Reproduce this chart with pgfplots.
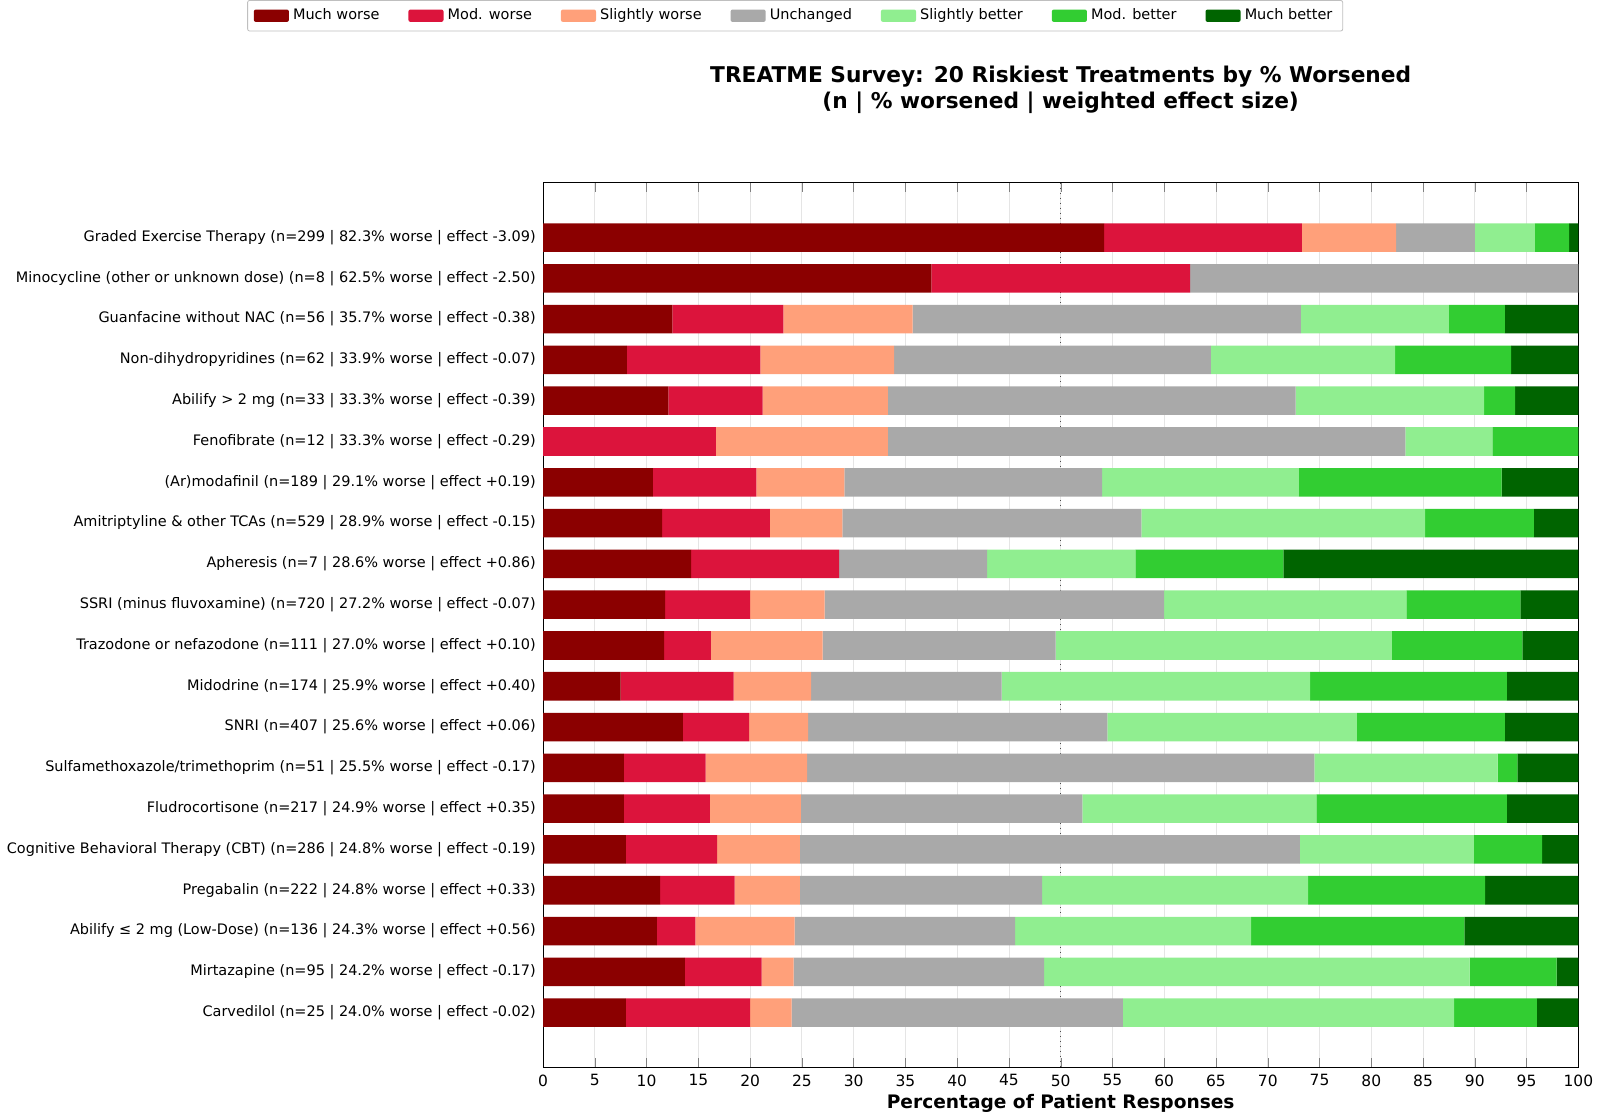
\documentclass[border=0pt]{standalone}
\usepackage{pgfplots}
\usepackage{pgfplotstable}
\pgfplotsset{compat=1.18}
\usepackage{fontspec}
\setmainfont{DejaVu Sans}
\definecolor{c1}{HTML}{8B0000}
\definecolor{c2}{HTML}{DC143C}
\definecolor{c3}{HTML}{FFA07A}
\definecolor{c4}{HTML}{A9A9A9}
\definecolor{c5}{HTML}{90EE90}
\definecolor{c6}{HTML}{32CD32}
\definecolor{c7}{HTML}{006400}
\pgfplotstableread{
y a b c d e f g
0 54.2 19.1 9.1 7.6 5.8 3.3 0.9
1 37.5 25.0 0 37.5 0 0 0
2 12.5 10.7 12.5 37.5 14.3 5.4 7.1
3 8.1 12.9 12.9 30.6 17.8 11.2 6.5
4 12.1 9.1 12.1 39.4 18.2 3.0 6.1
5 0 16.7 16.6 50.0 8.4 8.3 0
6 10.6 10.0 8.5 24.9 19.0 19.6 7.4
7 11.5 10.4 7.0 28.9 27.4 10.5 4.3
8 14.3 14.3 0 14.3 14.3 14.3 28.5
9 11.8 8.2 7.2 32.8 23.4 11.0 5.6
10 11.7 4.5 10.8 22.5 32.5 12.6 5.4
11 7.5 10.9 7.5 18.4 29.8 19.0 6.9
12 13.5 6.4 5.7 28.9 24.1 14.3 7.1
13 7.8 7.9 9.8 49.0 17.7 1.9 5.9
14 7.8 8.3 8.8 27.2 22.6 18.4 6.9
15 8.0 8.8 8.0 48.3 16.8 6.6 3.5
16 11.3 7.2 6.3 23.4 25.7 17.1 9.0
17 11.0 3.7 9.6 21.3 22.8 20.6 11.0
18 13.7 7.4 3.1 24.2 41.1 8.4 2.1
19 8.0 12.0 4.0 32.0 32.0 8.0 4.0
}\data
\begin{document}
\begin{tikzpicture}[x=1pt,y=1pt]
\begin{axis}[
  scale only axis, width=501pt, height=428pt,
  xbar stacked, bar width=0.7,
  xmin=0, xmax=100, ymin=-1.34, ymax=20.34, y dir=reverse,
  ytick={0,...,19}, ytick style={draw=none},
  yticklabels={
    Graded Exercise Therapy (n=299 | 82.3\% worse | effect -3.09),
    Minocycline (other or unknown dose) (n=8 | 62.5\% worse | effect -2.50),
    Guanfacine without NAC (n=56 | 35.7\% worse | effect -0.38),
    Non-dihydropyridines (n=62 | 33.9\% worse | effect -0.07),
    Abilify > 2 mg (n=33 | 33.3\% worse | effect -0.39),
    Fenofibrate (n=12 | 33.3\% worse | effect -0.29),
    (Ar)modafinil (n=189 | 29.1\% worse | effect +0.19),
    Amitriptyline \& other TCAs (n=529 | 28.9\% worse | effect -0.15),
    Apheresis (n=7 | 28.6\% worse | effect +0.86),
    SSRI (minus fluvoxamine) (n=720 | 27.2\% worse | effect -0.07),
    Trazodone or nefazodone (n=111 | 27.0\% worse | effect +0.10),
    Midodrine (n=174 | 25.9\% worse | effect +0.40),
    SNRI (n=407 | 25.6\% worse | effect +0.06),
    Sulfamethoxazole/trimethoprim (n=51 | 25.5\% worse | effect -0.17),
    Fludrocortisone (n=217 | 24.9\% worse | effect +0.35),
    Cognitive Behavioral Therapy (CBT) (n=286 | 24.8\% worse | effect -0.19),
    Pregabalin (n=222 | 24.8\% worse | effect +0.33),
    Abilify ≤ 2 mg (Low-Dose) (n=136 | 24.3\% worse | effect +0.56),
    Mirtazapine (n=95 | 24.2\% worse | effect -0.17),
    Carvedilol (n=25 | 24.0\% worse | effect -0.02)},
  yticklabel style={font=\fontsize{7}{8}\selectfont},
  xticklabel style={font=\fontsize{7.5}{9}\selectfont},
  /pgf/number format/assume math mode=true,
  xmajorgrids, grid style={gray!20},
  axis on top=false,
  xlabel={\textbf{Percentage of Patient Responses}},
  xlabel style={font=\fontsize{9}{10}\selectfont, yshift=3pt},
  title={\textbf{TREATME Survey: 20 Riskiest Treatments by \% Worsened}\\\textbf{(n | \% worsened | weighted effect size)}},
  title style={align=center, font=\fontsize{10.5}{12.5}\selectfont, at={(0.5,1)}, anchor=south, yshift=24pt},
  legend columns=7,
  legend style={at={(0.2435,1.189)}, anchor=center, font=\fontsize{7}{8}\selectfont, draw=gray!50, rounded corners=1pt,
    /tikz/every even column/.append style={column sep=12pt}},
  legend image code/.code={\fill[#1] (0pt,-3pt) rectangle (17pt,3pt);},
]
\addplot[fill=c1,draw=none] table[x=a,y=y]{\data};
\addplot[fill=c2,draw=none] table[x=b,y=y]{\data};
\addplot[fill=c3,draw=none] table[x=c,y=y]{\data};
\addplot[fill=c4,draw=none] table[x=d,y=y]{\data};
\addplot[fill=c5,draw=none] table[x=e,y=y]{\data};
\addplot[fill=c6,draw=none] table[x=f,y=y]{\data};
\addplot[fill=c7,draw=none] table[x=g,y=y]{\data};
\legend{Much worse,Mod. worse,Slightly worse,Unchanged,Slightly better,Mod. better,Much better}
\draw[black!70, dotted, thin] (axis cs:50,-1.34) -- (axis cs:50,20.34);
\end{axis}
\end{tikzpicture}
\end{document}
